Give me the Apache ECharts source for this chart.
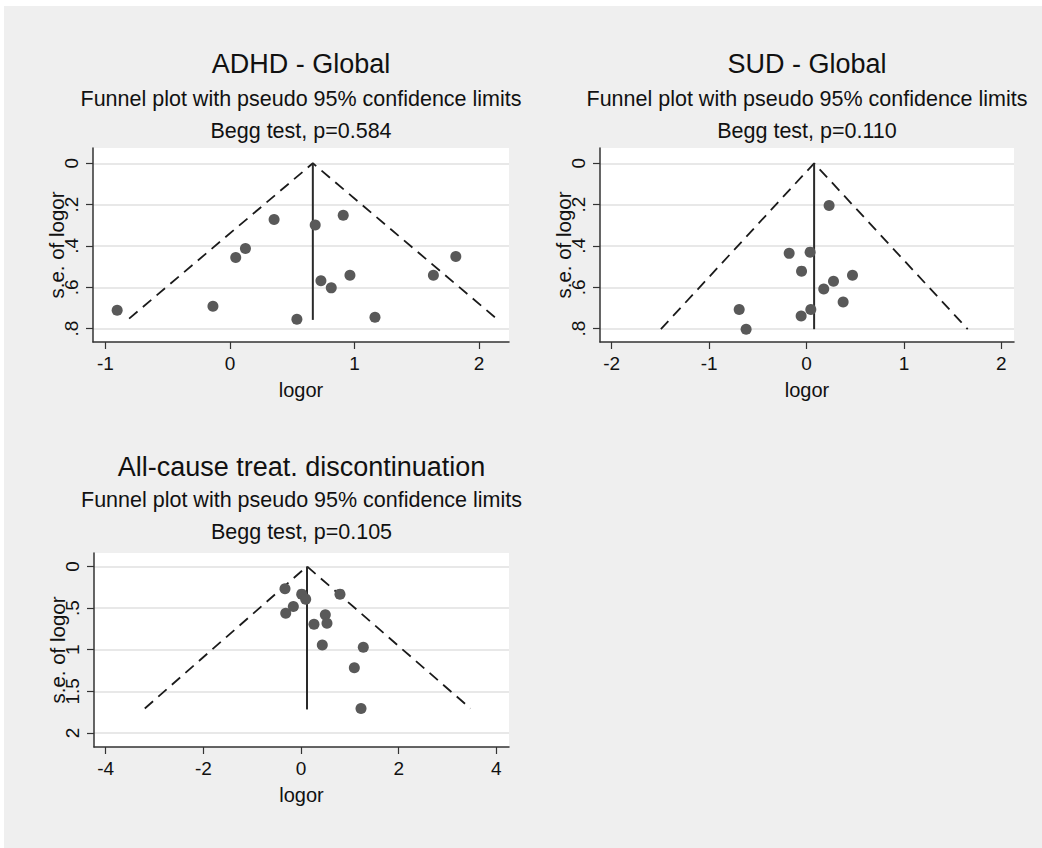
<!DOCTYPE html>
<html>
<head>
<meta charset="utf-8">
<script src="https://cdn.jsdelivr.net/npm/echarts@6/dist/echarts.min.js"></script>
<style>
  html, body { margin: 0; padding: 0; background: #ffffff; }
  #c { position: absolute; left: 4px; top: 6px; width: 1038px; height: 842px; }
</style>
</head>
<body>
<div id="c"></div>
<script>
// ---------- data ----------
// Panel titles
const panelTitles = ['ADHD - Global', 'SUD - Global', 'All-cause treat. discontinuation'];
const subTitle = 'Funnel plot with pseudo 95% confidence limits';
const beggTexts = ['Begg test, p=0.584', 'Begg test, p=0.110', 'Begg test, p=0.105'];

// ADHD - Global: [logor, s.e.]
const adhdPoints = [
  [-0.906, 0.711], [-0.137, 0.692], [0.046, 0.456], [0.124, 0.412], [0.354, 0.272],
  [0.537, 0.755], [0.684, 0.299], [0.730, 0.569], [0.813, 0.603], [0.909, 0.252],
  [0.963, 0.542], [1.164, 0.745], [1.633, 0.542], [1.813, 0.451]
];
const adhdPooledLine = [[0.665, 0], [0.665, 0.758]];
const adhdFunnel = [[-0.81, 0.752], [0.665, 0], [2.14, 0.752]];

// SUD - Global
const sudPoints = [
  [0.232, 0.204], [-0.178, 0.436], [0.037, 0.430], [-0.051, 0.522], [0.472, 0.542],
  [0.277, 0.571], [0.177, 0.608], [0.376, 0.671], [-0.691, 0.708], [0.044, 0.708],
  [-0.055, 0.739], [-0.620, 0.803]
];
const sudPooledLine = [[0.078, 0], [0.078, 0.803]];
const sudFunnel = [[-1.495, 0.803], [0.078, 0], [1.655, 0.803]];

// All-cause treatment discontinuation
const allPoints = [
  [-0.328, 0.269], [0.014, 0.333], [0.096, 0.393], [0.798, 0.333], [-0.157, 0.482],
  [-0.313, 0.562], [0.498, 0.582], [0.532, 0.682], [0.266, 0.694], [0.436, 0.943],
  [1.276, 0.971], [1.092, 1.217], [1.229, 1.706]
];
const allPooledLine = [[0.123, 0], [0.123, 1.718]];
const allFunnel = [[-3.20, 1.706], [0.123, 0], [3.47, 1.706]];

// Tick values and labels
const adhdXTicks = [-1, 0, 1, 2];
const sudXTicks = [-2, -1, 0, 1, 2];
const allXTicks = [-4, -2, 0, 2, 4];
const seTicksA = [0, 0.2, 0.4, 0.6, 0.8];
const seTickLabelsA = ['0', '.2', '.4', '.6', '.8'];
const seTicksB = [0, 0.5, 1, 1.5, 2];
const seTickLabelsB = ['0', '.5', '1', '1.5', '2'];
const xAxisName = 'logor';
const yAxisName = 's.e. of logor';

// ---------- chart ----------
const FONT = "'Liberation Sans', Arial, Helvetica, sans-serif";
const TXT = '#111111';

const grids = [
  { left: 89, top: 142, width: 416, height: 194 },
  { left: 596, top: 142, width: 414, height: 194 },
  { left: 90, top: 547, width: 415, height: 194 }
];
const xRanges = [[-1.10, 2.24], [-2.12, 2.13], [-4.24, 4.26]];
const yRanges = [[-0.074, 0.865], [-0.074, 0.865], [-0.161, 2.169]];
const xTicks = [adhdXTicks, sudXTicks, allXTicks];
const yTicks = [seTicksA, seTicksA, seTicksB];
const yLabels = [seTickLabelsA, seTickLabelsA, seTickLabelsB];
const pointsArr = [adhdPoints, sudPoints, allPoints];
const pooledArr = [adhdPooledLine, sudPooledLine, allPooledLine];
const funnelArr = [adhdFunnel, sudFunnel, allFunnel];
const titleY = [[58, 93, 125], [58, 93, 125], [461, 494, 526]];

const option = {
  backgroundColor: '#efefef',
  animation: false,
  grid: grids.map(g => Object.assign({
    show: true, backgroundColor: '#ffffff', borderWidth: 0, containLabel: false, outerBoundsMode: 'none'
  }, g)),
  xAxis: grids.map((g, i) => ({
    type: 'value', gridIndex: i, position: 'bottom',
    min: xRanges[i][0], max: xRanges[i][1],
    name: xAxisName, nameLocation: 'middle', nameGap: 38, nameMoveOverlap: false,
    nameTextStyle: { fontFamily: FONT, fontSize: 20, color: TXT },
    axisLine: { show: true, onZero: false, lineStyle: { color: '#333', width: 1.5 } },
    axisTick: { show: true, length: 7, customValues: xTicks[i], lineStyle: { color: '#333', width: 1.2 } },
    axisLabel: { show: true, customValues: xTicks[i], margin: 12, fontFamily: FONT, fontSize: 19, color: TXT,
      formatter: v => String(v) },
    splitLine: { show: false }
  })),
  yAxis: grids.map((g, i) => ({
    type: 'value', gridIndex: i, position: 'left', inverse: true,
    min: yRanges[i][0], max: yRanges[i][1],
    name: yAxisName, nameLocation: 'middle', nameGap: 26, nameRotate: 90, nameMoveOverlap: false,
    nameTextStyle: { fontFamily: FONT, fontSize: 20.5, color: TXT },
    axisLine: { show: true, onZero: false, lineStyle: { color: '#333', width: 1.5 } },
    axisTick: { show: true, length: 7, customValues: yTicks[i], lineStyle: { color: '#333', width: 1.2 } },
    axisLabel: { show: true, customValues: yTicks[i], rotate: 90, margin: 12, fontFamily: FONT, fontSize: 19, color: TXT,
      formatter: v => { const k = yTicks[i].findIndex(t => Math.abs(t - v) < 1e-9); return k >= 0 ? yLabels[i][k] : ''; } },
    splitLine: { show: true, lineStyle: { color: '#e8e8e8', width: 2 } }
  })),
  series: [],
  graphic: []
};

for (let i = 0; i < 3; i++) {
  option.series.push({
    type: 'line', xAxisIndex: i, yAxisIndex: i, data: funnelArr[i],
    symbol: 'none', silent: true, z: 2,
    lineStyle: { color: '#1a1a1a', width: 1.8, type: [11, 7] }
  });
  option.series.push({
    type: 'line', xAxisIndex: i, yAxisIndex: i, data: pooledArr[i],
    symbol: 'none', silent: true, z: 2,
    lineStyle: { color: '#2a2a2a', width: 2 }
  });
  option.series.push({
    type: 'scatter', xAxisIndex: i, yAxisIndex: i, data: pointsArr[i],
    symbol: 'circle', symbolSize: 11, z: 3,
    itemStyle: { color: '#595959', opacity: 1 }
  });
  const cx = grids[i].left + grids[i].width / 2;
  const texts = [
    { t: panelTitles[i], s: 27 },
    { t: subTitle, s: 21.5 },
    { t: beggTexts[i], s: 21.5 }
  ];
  texts.forEach((o, k) => {
    option.graphic.push({
      type: 'text', x: cx, y: titleY[i][k],
      style: { text: o.t, x: 0, y: 0, textAlign: 'center', textVerticalAlign: 'middle',
        font: o.s + 'px ' + FONT, fill: TXT }
    });
  });
}

const chart = echarts.init(document.getElementById('c'), null, { renderer: 'svg' });
chart.setOption(option);
</script>
</body>
</html>
